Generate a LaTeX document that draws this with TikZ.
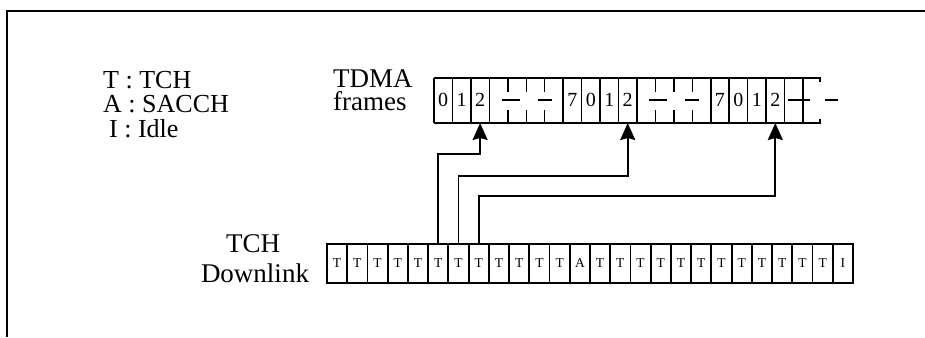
\documentclass[tikz,border=0pt]{standalone}
\usepackage{fontspec}
\setmainfont{Liberation Serif}
\usetikzlibrary{arrows.meta}
\begin{document}
\begin{tikzpicture}[x=1pt,y=-1pt,
  big/.style={font=\fontsize{27}{31}\selectfont, inner sep=0pt},
  leg/.style={font=\fontsize{26}{30}\selectfont, inner sep=0pt, anchor=base west},
  dig/.style={font=\fontsize{20}{22}\selectfont, inner sep=0pt},
  slot/.style={draw, line width=1.8pt, minimum width=20.23pt, minimum height=39pt, inner sep=0pt, font=\fontsize{13.5}{15}\selectfont},
  fr/.style={line width=1.5pt},
  arr/.style={line width=1.8pt, -{Stealth[length=17pt,width=15pt,inset=2pt]}}]
\useasboundingbox (0,0) rectangle (925,337);
% outer frame
\draw[line width=1.6pt] (7,337) -- (7,11) -- (925,11);
% legend
\node[leg] (lt) at (103,88) {T : TCH};
\node[leg] (la) at (103,112.5) {A : SACCH};
\node[leg] (li) at (109,137) {I : Idle};
% TDMA label
\node[big, anchor=base west] (tdma) at (333,87) {TDMA};
\node[big, anchor=base west] (frames) at (333,110) {frames};
% TDMA frame
\def\fw{18.45}
\draw[fr] (434,78) -- (820,78) -- (820,82);
\draw[fr] (434,123) -- (820,123) -- (820,119);
\foreach \k in {0,1,2,3,7,8,9,10,11,15,16,17,18,19,20}
  \draw[fr] ({434+\k*\fw},78) -- ({434+\k*\fw},123);
\foreach \k in {4,5,6,12,13,14}{
  \draw[fr] ({434+\k*\fw},78) -- ({434+\k*\fw},92);
  \draw[fr] ({434+\k*\fw},110) -- ({434+\k*\fw},123);}
\foreach \s in {3,11}{
  \draw[fr] ({434+\s*\fw+12.5},100) -- ({434+\s*\fw+30.5},100);
  \draw[fr] ({434+\s*\fw+48.5},100) -- ({434+\s*\fw+62.5},100);}
\draw[fr] (788,100) -- (810,100);
\draw[fr] (825,100) -- (838,100);
\foreach \k/\d in {0/0,1/1,2/2,7/7,8/0,9/1,10/2,15/7,16/0,17/1,18/2}
  \node[dig] (f\k) at ({434+(\k+0.5)*\fw},100) {\d};
\foreach \k in {2,10,18}
  \coordinate (b\k) at ({434+(\k+0.5)*\fw},123);
% TCH downlink
\node[big, anchor=base] (tch) at (253,252) {TCH};
\node[big, anchor=base] (dl) at (255,282) {Downlink};
\foreach \k in {0,...,25}{
  \ifnum\k=12 \def\c{A}\else\ifnum\k=25 \def\c{I}\else\def\c{T}\fi\fi
  \node[slot] (t\k) at ({327+(\k+0.5)*20.23},263.5) {\c};}
% connectors
\coordinate (h1) at (0,154);
\coordinate (h2) at (0,176);
\coordinate (h3) at (0,196);
\draw[arr] (t5.north) -- (t5.north |- h1) -| (b2);
\draw[arr] (t6.north) -- (t6.north |- h2) -| (b10);
\draw[arr] (t7.north) -- (t7.north |- h3) -| (b18);
\end{tikzpicture}
\end{document}
